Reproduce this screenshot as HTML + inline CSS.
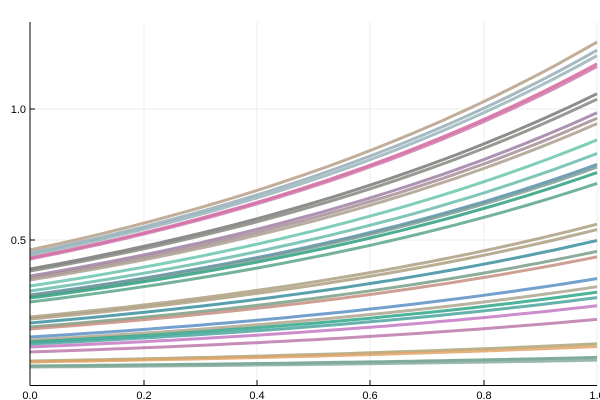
<!DOCTYPE html>
<html><head><style>body{margin:0;background:#fff}svg{display:block}text{font-family:"Liberation Sans",sans-serif;font-size:11px;fill:#000}</style></head>
<body>
<svg id="s" width="600" height="400" xmlns="http://www.w3.org/2000/svg">
<rect width="600" height="400" fill="#fff"/>
<g stroke="#ececec" stroke-width="1">
<line x1="144" y1="22" x2="144" y2="385"/><line x1="257" y1="22" x2="257" y2="385"/>
<line x1="370" y1="22" x2="370" y2="385"/><line x1="484" y1="22" x2="484" y2="385"/>
<line x1="597" y1="22" x2="597" y2="385"/>
<line x1="30" y1="109" x2="597" y2="109"/><line x1="30" y1="240" x2="597" y2="240"/>
</g>
<g id="c" fill="none" stroke-width="3" stroke-opacity="0.8"></g>
<g stroke="#000" stroke-width="1">
<line x1="30" y1="22" x2="30" y2="385.5"/><line x1="30" y1="385.5" x2="597" y2="385.5"/>
<line x1="30" y1="109" x2="35" y2="109"/><line x1="30" y1="240" x2="35" y2="240"/>
<line x1="144" y1="385" x2="144" y2="380"/><line x1="257" y1="385" x2="257" y2="380"/>
<line x1="370" y1="385" x2="370" y2="380"/><line x1="484" y1="385" x2="484" y2="380"/>
</g>
<text x="26" y="113" text-anchor="end">1.0</text>
<text x="26" y="244" text-anchor="end">0.5</text>
<text x="30" y="399" text-anchor="middle">0.0</text>
<text x="144" y="399" text-anchor="middle">0.2</text>
<text x="257" y="399" text-anchor="middle">0.4</text>
<text x="370" y="399" text-anchor="middle">0.6</text>
<text x="484" y="399" text-anchor="middle">0.8</text>
<text x="597" y="399" text-anchor="middle">1.0</text>
</svg>
<script>
var d=[[250,"#b09a80"],[253,"#90a8b0"],[255,"#90b0b8"],[258,"#d06098"],[259,"#d070a8"],[269,"#707070"],[271,"#808078"],[276,"#9878a0"],[278,"#a08890"],[280,"#a89888"],[286,"#60c0a8"],[291,"#60b8a8"],[295,"#5088a8"],[296,"#709890"],[298,"#209878"],[302,"#50a080"],[317,"#a89878"],[319,"#a89878"],[323,"#308898"],[327,"#709880"],[329,"#c08878"],[337,"#5088c0"],[340,"#a8a088"],[342,"#20a080"],[344,"#40a098"],[347,"#c070c0"],[352,"#b870a8"],[361,"#a8a070"],[362,"#e0a060"],[366,"#609880"],[367,"#80a898"]];
var g=document.getElementById("c"),h="";
d.forEach(function(e){var a=371-e[0],p="";for(var i=0;i<=40;i++){var t=i/40;p+=(i?"L":"M")+(30+567*t).toFixed(1)+","+(371-a*Math.exp(t)).toFixed(1);}h+='<path d="'+p+'" stroke="'+e[1]+'"/>';});
g.innerHTML=h;
</script>
</body></html>
